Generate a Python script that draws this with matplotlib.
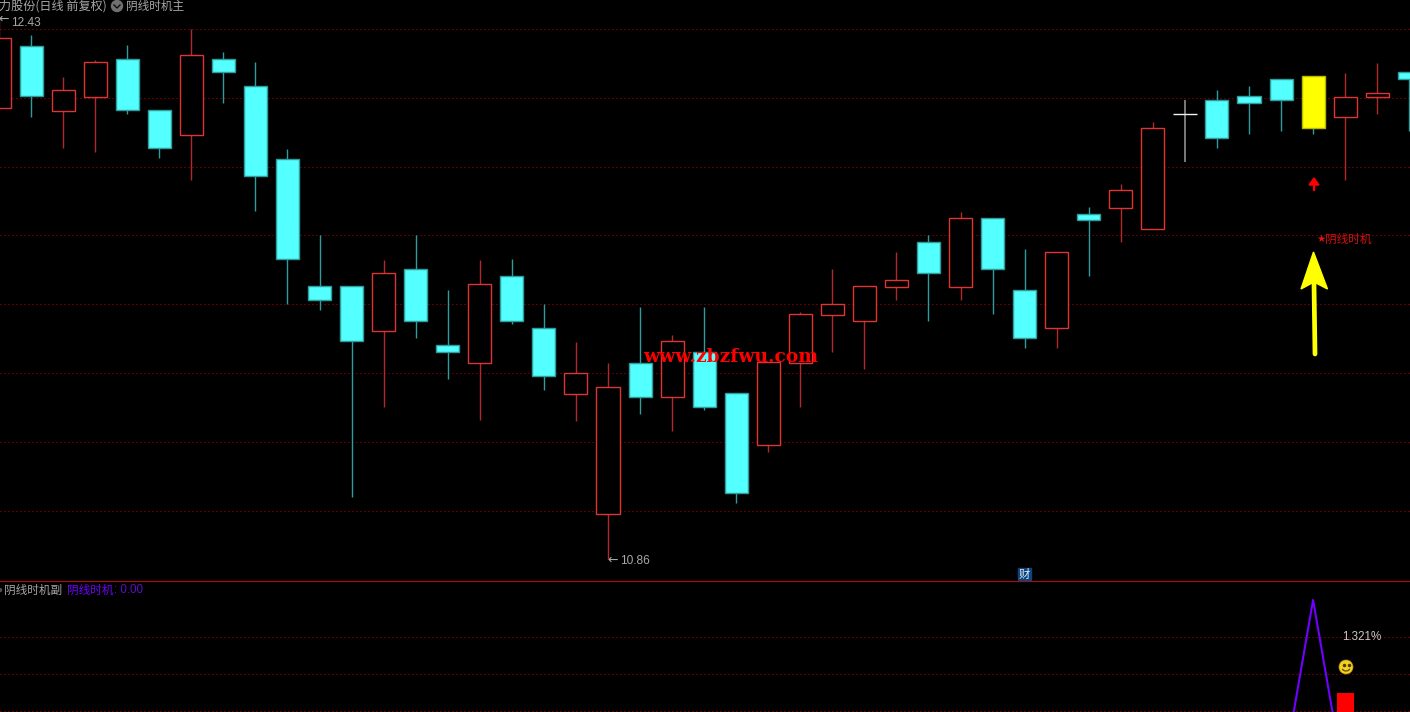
"""
阴线时机 daily K-line chart with the sub-indicator pane below it.
Output: out.png (1410x712)
"""

import matplotlib
matplotlib.use("Agg")
import matplotlib.pyplot as plt
from matplotlib.patches import Arc, Circle, Polygon, Rectangle

# ── Data ──────────────────────────────────────────────────────────────────────
opens = [12.170, 12.350, 12.161, 12.202, 12.312, 12.164, 12.091, 12.312, 12.234,
         12.022, 11.653, 11.653, 11.523, 11.702, 11.482, 11.430, 11.682, 11.531,
         11.340, 10.991, 11.430, 11.331, 11.462, 11.343, 11.192, 11.430, 11.569,
         11.552, 11.650, 11.781, 11.650, 11.851, 11.642, 11.531, 11.862, 11.880,
         11.819, 12.152, 12.193, 12.205, 12.254, 12.263, 12.144, 12.202, 12.274]
closes = [12.373, 12.205, 12.222, 12.303, 12.164, 12.054, 12.324, 12.274, 11.972,
          11.732, 11.612, 11.493, 11.691, 11.552, 11.462, 11.659, 11.552, 11.392,
          11.401, 11.360, 11.331, 11.493, 11.302, 11.052, 11.433, 11.572, 11.601,
          11.653, 11.671, 11.691, 11.851, 11.702, 11.502, 11.752, 11.845, 11.932,
          12.112, 12.152, 12.083, 12.184, 12.193, 12.112, 12.202, 12.213, 12.254]
highs = [12.431, 12.382, 12.260, 12.309, 12.353, 12.164, 12.399, 12.332, 12.303,
         12.051, 11.801, 11.653, 11.729, 11.801, 11.642, 11.729, 11.732, 11.601,
         11.491, 11.430, 11.592, 11.511, 11.592, 11.343, 11.433, 11.578, 11.702,
         11.653, 11.752, 11.801, 11.868, 11.851, 11.761, 11.752, 11.882, 11.949,
         12.129, 12.193, 12.222, 12.234, 12.254, 12.263, 12.271, 12.300, 12.274]
lows = [12.170, 12.144, 12.054, 12.042, 12.152, 12.025, 11.961, 12.184, 11.871,
        11.601, 11.583, 11.041, 11.302, 11.502, 11.383, 11.264, 11.543, 11.351,
        11.261, 10.860, 11.282, 11.232, 11.293, 11.023, 11.171, 11.302, 11.462,
        11.412, 11.612, 11.552, 11.612, 11.572, 11.473, 11.473, 11.682, 11.781,
        11.819, 12.013, 12.054, 12.094, 12.103, 12.094, 11.961, 12.152, 12.103]
price_grid = [11.0, 11.2, 11.4, 11.6, 11.8, 12.0, 12.2, 12.4]

signal = [0, 0, 0, 0, 0, 0, 0, 0, 0, 0, 0, 0, 0, 0, 0, 0, 0, 0, 0, 0, 0, 0, 0,
          0, 0, 0, 0, 0, 0, 0, 0, 0, 0, 0, 0, 0, 0, 0, 0, 0, 0, 1, 0, 0, 0]
signal_bar_x = [42]
signal_bar_y = [0.497]
signal_grid = [0.4, 0.6, 0.8]
highlight_day = 41      # yellow candle
doji_day = 37           # white cross

# ── Palette ───────────────────────────────────────────────────────────────────
BG = "#000000"
CYAN = "#54ffff"
CYAN_EDGE = "#2f9c9c"
CYAN_WICK = "#2f9c9c"
RED_EDGE = "#e03434"
RED_WICK = "#b02a2a"
GRID = "#c00000"
TEXT = "#a8a8a8"
PURPLE = "#7000ff"
CJK = ["Noto Sans CJK SC", "DejaVu Sans"]
LATIN = ["Liberation Sans", "Noto Sans CJK SC"]

W, H = 1410, 712
SPLIT = 581
STEP = 32.05            # pixels per trading day
SHIFT = 0.03            # first day sits just left of the frame edge
PX = 0.72               # points per pixel


def dotted_grid(ax, levels):
    ax.hlines(levels, *ax.get_xlim(), color=GRID, linewidth=PX,
              linestyle=(0, (1, 3)), zorder=1)


def bare_axes(rect):
    ax = fig.add_axes(rect, facecolor=BG)
    ax.axis("off")
    ax.set_xlim(SHIFT, W / STEP + SHIFT)
    return ax


def extreme_label(ax, day, price, label, dy):
    """Arrow and price next to the wick tip, offsets in pixels."""
    ax.annotate("←", (day, price), xytext=(-1 * PX, -1 * PX), textcoords="offset points",
                color=TEXT, fontsize=9, va="center", family="DejaVu Sans", zorder=6,
                annotation_clip=False)
    ax.annotate(label, (day, price), xytext=(12.5 * PX, -dy * PX), textcoords="offset points",
                color=TEXT, fontsize=8.6, va="center", family=LATIN, zorder=6,
                annotation_clip=False)


def draw_candles(ax):
    for i, (o, c, h, l) in enumerate(zip(opens, closes, highs, lows)):
        top, bot = max(o, c), min(o, c)
        rising = c > o
        face, edge, wick = (BG, RED_EDGE, RED_WICK) if rising else (CYAN, CYAN_EDGE, CYAN_WICK)
        if i == highlight_day:
            face, edge = "#ffff00", "#b8b800"
        if i == doji_day:
            ax.vlines(i, l, h, color="#9a9a9a", linewidth=1.1, zorder=3)
            ax.hlines(c, i - 0.37, i + 0.37, color="#f0f0f0", linewidth=1.0, zorder=4)
            continue
        ax.vlines(i, top, h, color=wick, linewidth=1.0, zorder=3)
        ax.vlines(i, l, bot, color=wick, linewidth=1.0, zorder=3)
        ax.bar(i, top - bot, bottom=bot, width=0.72, facecolor=face,
               edgecolor=edge, linewidth=1.0, zorder=4)


# ── Figure ────────────────────────────────────────────────────────────────────
fig = plt.figure(figsize=(W / 100, H / 100), dpi=100, facecolor=BG)

ax_k = bare_axes([0, 1 - SPLIT / H, 1, SPLIT / H])
ax_k.set_ylim(10.7975, 12.4833)
dotted_grid(ax_k, price_grid)
draw_candles(ax_k)

# price extremes
extreme_label(ax_k, 0, highs[0], "12.43", 5)
extreme_label(ax_k, 19, lows[19], "10.86", 2)

ax_s = bare_axes([0, 0, 1, (H - SPLIT - 1) / H])
ax_s.set_ylim(0.395, 1.097)
dotted_grid(ax_s, signal_grid)
ax_s.bar(signal_bar_x, signal_bar_y, width=0.53, color="#ff0000", zorder=3)
ax_s.plot(range(len(signal)), signal, color=PURPLE, linewidth=1.5, zorder=4)

# ── Overlay in pixel coordinates: headers, labels, arrows ─────────────────────
ov = fig.add_axes([0, 0, 1, 1], facecolor="none")
ov.axis("off")
ov.set_xlim(0, W)
ov.set_ylim(H, 0)

ov.axhline(SPLIT, color="#a01010", linewidth=0.9, zorder=2)

ov.text(-1, 6.5, "力股份(日线 前复权)", color=TEXT, fontsize=8.7, va="center", family=CJK)
ov.add_patch(Circle((117, 6), 5.5, color="#707070", zorder=5))
ov.plot([114, 117, 120], [5, 8, 5], color="#101010", linewidth=1.0, zorder=6)
ov.text(126, 6.5, "阴线时机主", color=TEXT, fontsize=8.4, va="center", family=CJK)

ov.add_patch(Circle((0, 590), 1.5, color="#505050", zorder=5))
ov.text(4, 590, "阴线时机副", color=TEXT, fontsize=8.4, va="center", family=CJK)
ov.text(67, 590, "阴线时机", color=PURPLE, fontsize=8.4, va="center", family=CJK)
ov.text(114, 590, ": 0.00", color="#5a10c8", fontsize=8.4, va="center", family=LATIN)

ov.text(643, 357, "www.zbzfwu.com", color="#ff0000", fontsize=13.4, fontweight="bold",
        va="center", family="DejaVu Serif", zorder=8)

ov.text(1316, 239, "★", color="#e81010", fontsize=7.5, va="center", family="DejaVu Sans", zorder=8)
ov.text(1325, 239, "阴线时机", color="#d81010", fontsize=8.4, va="center", family=CJK, zorder=8)

ov.text(1342, 636.5, "1.321%", color="#c8c8c8", fontsize=8.4, va="center", family=LATIN, zorder=8)

# small red signal arrow
ov.plot([1314, 1314], [190, 182], color="#ff0000", linewidth=1.6, zorder=8)
ov.add_patch(Polygon([(1314, 178), (1319, 185), (1309, 185)], color="#ff0000", zorder=8))

# big yellow arrow
ov.plot([1315, 1314], [354, 284], color="#ffff00", linewidth=3.4,
        solid_capstyle="round", zorder=8)
ov.add_patch(Polygon([(1313.5, 252), (1327.5, 289), (1314, 282), (1301, 289)],
                     color="#ffff00", zorder=8))

# smiley
ov.add_patch(Circle((1346, 667), 7, facecolor="#f2d21e", edgecolor="#b89a10",
                    linewidth=0.5, zorder=8))
ov.plot([1343.5, 1348.5], [664.5, 664.5], linestyle="none", marker="o", markersize=1.5,
        color="#4a3a00", zorder=9)
ov.add_patch(Arc((1346, 667.5), 8, 7, theta1=20, theta2=160, color="#4a3a00",
                 linewidth=0.8, zorder=9))

# 财 badge
ov.add_patch(Rectangle((1018, 568), 13, 12, color="#0c4480", zorder=8))
ov.text(1024.5, 574, "财", color="#e8e8e8", fontsize=8.2, ha="center", va="center",
        family=CJK, zorder=9)

fig.savefig("out.png", dpi=100, facecolor=BG)
